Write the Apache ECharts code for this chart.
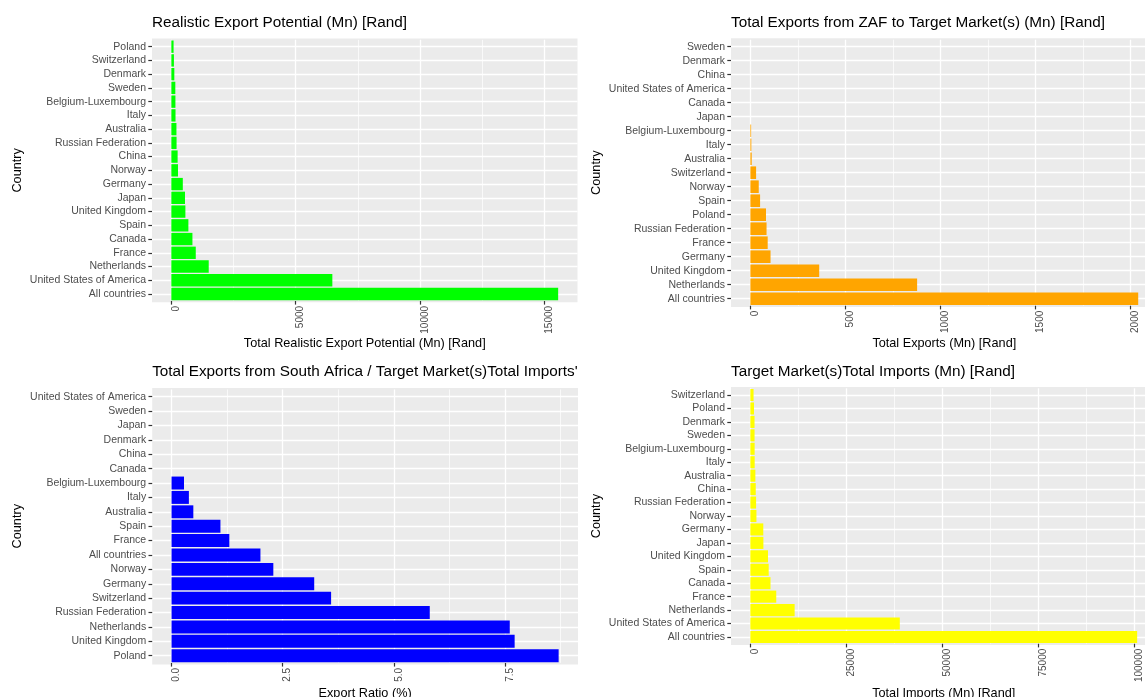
<!DOCTYPE html>
<html>
<head>
<meta charset="utf-8">
<script src="https://cdn.jsdelivr.net/npm/echarts@6/dist/echarts.min.js"></script>
<style>
  html, body { margin: 0; padding: 0; background: #ffffff; }
  #chart { width: 1145px; height: 697px; }
</style>
</head>
<body>
<div id="chart"></div>
<script>
// Realistic export potential (Mn Rand), listed top to bottom as drawn
const potentialCountries = ['Poland', 'Switzerland', 'Denmark', 'Sweden', 'Belgium-Luxembourg', 'Italy',
  'Australia', 'Russian Federation', 'China', 'Norway', 'Germany', 'Japan', 'United Kingdom', 'Spain',
  'Canada', 'France', 'Netherlands', 'United States of America', 'All countries'];
const potentialValues = [90, 104, 120, 160, 164, 168, 205, 210, 253, 268, 461, 550, 565, 685, 848, 982,
  1503, 6473, 15551];
const potentialTicks = [0, 5000, 10000, 15000];
const potentialMinorTicks = [2500, 7500, 12500];

// Total exports from ZAF to each target market (Mn Rand)
const exportCountries = ['Sweden', 'Denmark', 'China', 'United States of America', 'Canada', 'Japan',
  'Belgium-Luxembourg', 'Italy', 'Australia', 'Switzerland', 'Norway', 'Spain', 'Poland',
  'Russian Federation', 'France', 'Germany', 'United Kingdom', 'Netherlands', 'All countries'];
const exportValues = [0, 0, 0, 0, 0, 0, 4, 5, 7, 30, 44, 51, 82, 85, 91, 106, 362, 877, 2040];
const exportTicks = [0, 500, 1000, 1500, 2000];
const exportMinorTicks = [250, 750, 1250, 1750];

// Export ratio: exports from South Africa / target market total imports (%)
const ratioCountries = ['United States of America', 'Sweden', 'Japan', 'Denmark', 'China', 'Canada',
  'Belgium-Luxembourg', 'Italy', 'Australia', 'Spain', 'France', 'All countries', 'Norway', 'Germany',
  'Switzerland', 'Russian Federation', 'Netherlands', 'United Kingdom', 'Poland'];
const ratioValues = [0, 0, 0, 0, 0, 0, 0.28, 0.39, 0.49, 1.10, 1.30, 2.00, 2.29, 3.21, 3.59, 5.81,
  7.61, 7.72, 8.71];
const ratioTicks = [0, 2.5, 5, 7.5];
const ratioMinorTicks = [1.25, 3.75, 6.25, 8.75];

// Target market total imports (Mn Rand)
const importCountries = ['Switzerland', 'Poland', 'Denmark', 'Sweden', 'Belgium-Luxembourg', 'Italy',
  'Australia', 'China', 'Russian Federation', 'Norway', 'Germany', 'Japan', 'United Kingdom', 'Spain',
  'Canada', 'France', 'Netherlands', 'United States of America', 'All countries'];
const importValues = [840, 950, 1090, 1100, 1120, 1130, 1310, 1410, 1500, 1590, 3370, 3400, 4600, 4780,
  5250, 6750, 11540, 38930, 100750];
const importTicks = [0, 25000, 50000, 75000, 100000];
const importMinorTicks = [12500, 37500, 62500, 87500];

const FONT = '"Liberation Sans", Arial, Helvetica, sans-serif';

// Panel layout: plotting area, gray panel extent and title/axis-name spacing
const panels = [
  { title: 'Realistic Export Potential (Mn) [Rand]', xName: 'Total Realistic Export Potential (Mn) [Rand]',
    countries: potentialCountries, values: potentialValues, ticks: potentialTicks, minor: potentialMinorTicks,
    color: '#00FF00', decimals: 0,
    left: 152, width: 425.5, top: 39.8, height: 261.1, bgTop: 38.4, bgHeight: 263.8, titleTop: 15.5, xNameGap: 36 },
  { title: 'Total Exports from ZAF to Target Market(s) (Mn) [Rand]', xName: 'Total Exports (Mn) [Rand]',
    countries: exportCountries, values: exportValues, ticks: exportTicks, minor: exportMinorTicks,
    color: '#FFA500', decimals: 0,
    left: 731, width: 426.6, top: 39.7, height: 266, bgTop: 38.3, bgHeight: 268.8, titleTop: 15.5, xNameGap: 31.4 },
  { title: "Total Exports from South Africa / Target Market(s)Total Imports'", xName: 'Export Ratio (%)',
    countries: ratioCountries, values: ratioValues, ticks: ratioTicks, minor: ratioMinorTicks,
    color: '#0000FF', decimals: 1,
    left: 152.2, width: 425.8, top: 389.5, height: 273.4, bgTop: 388.1, bgHeight: 276.3, titleTop: 364.5, xNameGap: 24 },
  { title: 'Target Market(s)Total Imports (Mn) [Rand]', xName: 'Total Imports (Mn) [Rand]',
    countries: importCountries, values: importValues, ticks: importTicks, minor: importMinorTicks,
    color: '#FFFF00', decimals: 0,
    left: 731, width: 425.5, top: 388.3, height: 255.4, bgTop: 386.9, bgHeight: 258.1, titleTop: 364.5, xNameGap: 43.4 }
];

const nameStyle = { color: '#000000', fontSize: 12.7, fontFamily: FONT };
const tickStyle = { color: '#333333', width: 1.2 };

const grids = [];
const xAxes = [];
const yAxes = [];
const series = [];
const titles = [];

panels.forEach((p, i) => {
  const top = Math.max(...p.values);
  const lo = -0.05 * top;
  const hi = 1.05 * top;

  grids.push({ left: p.left, top: p.top, width: p.width, height: p.height, show: false,
    containLabel: false, outerBoundsMode: 'none' });

  xAxes.push({
    type: 'value', gridIndex: i, min: lo, max: hi, position: 'bottom', z: 1,
    axisLine: { show: false, onZero: false },
    axisTick: { show: true, length: 3.7, customValues: p.ticks, lineStyle: tickStyle },
    axisLabel: { show: true, customValues: p.ticks, rotate: 90, verticalAlign: 'top', margin: 5,
      color: '#4D4D4D', fontSize: 10, fontFamily: FONT, hideOverlap: false,
      formatter: v => Number(v).toFixed(p.decimals) },
    splitLine: { show: true, lineStyle: { color: '#FFFFFF', width: 1.3 } },
    name: p.xName, nameLocation: 'middle', nameGap: p.xNameGap, nameTextStyle: nameStyle,
    nameMoveOverlap: false
  });
  // finer gridlines half-way between labelled breaks
  xAxes.push({
    type: 'value', gridIndex: i, min: lo, max: hi, position: 'top', z: 1,
    axisLine: { show: false, onZero: false },
    axisTick: { show: false, customValues: p.minor },
    axisLabel: { show: false, customValues: p.minor },
    splitLine: { show: true, lineStyle: { color: '#FFFFFF', width: 0.7 } }
  });

  // country axis: gridlines sit on the category centres, under the bars
  yAxes.push({
    type: 'category', gridIndex: i, data: p.countries, inverse: true, z: 1,
    axisLine: { show: false, onZero: false },
    axisTick: { show: true, alignWithLabel: true, length: 3.7, lineStyle: tickStyle },
    axisLabel: { interval: 0, color: '#4D4D4D', fontSize: 10.5, fontFamily: FONT, margin: 6 },
    splitLine: { show: true, alignWithLabel: true, lineStyle: { color: '#FFFFFF', width: 1.3 } },
    name: 'Country', nameLocation: 'middle', nameGap: 128, nameTextStyle: nameStyle,
    nameMoveOverlap: false
  });

  series.push({
    type: 'bar', xAxisIndex: 2 * i, yAxisIndex: i, data: p.values, barWidth: '90%',
    itemStyle: { color: p.color }, z: 10, silent: true
  });

  titles.push({
    text: p.title, left: p.left, top: p.titleTop, padding: 0,
    textStyle: { fontSize: 15.3, fontWeight: 'normal', color: '#000000', fontFamily: FONT }
  });
});

// gray panel backgrounds
panels.forEach(p => {
  grids.push({ left: p.left, top: p.bgTop, width: p.width, height: p.bgHeight, show: true,
    backgroundColor: '#EBEBEB', borderWidth: 0, z: 0, outerBoundsMode: 'none' });
});

const chart = echarts.init(document.getElementById('chart'), null, { renderer: 'canvas' });
chart.setOption({
  animation: false,
  backgroundColor: '#FFFFFF',
  textStyle: { fontFamily: FONT },
  title: titles,
  grid: grids,
  xAxis: xAxes,
  yAxis: yAxes,
  series: series
});
</script>
</body>
</html>
